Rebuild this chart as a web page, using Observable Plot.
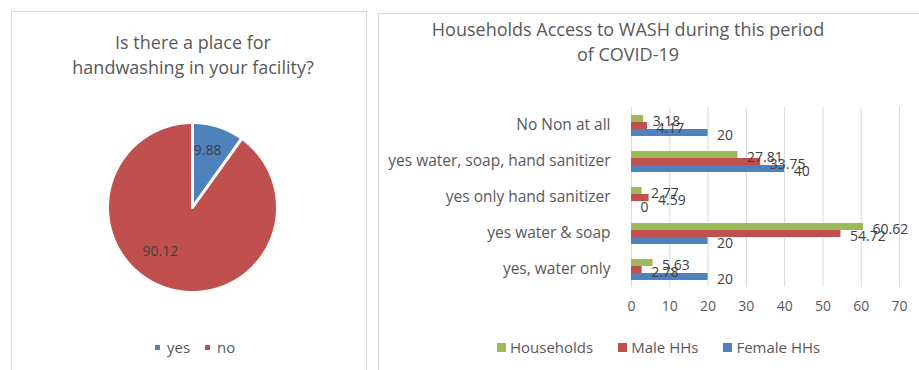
<!DOCTYPE html>
<html>
<head>
<meta charset="utf-8">
<script src="https://cdn.jsdelivr.net/npm/d3@7"></script>
<script src="https://cdn.jsdelivr.net/npm/@observablehq/plot@0.6"></script>
<style>
  body { margin: 0; background: #fff; font-family: "Open Sans", Lato, sans-serif; color: #595959; }
  #wrap { position: relative; width: 919px; height: 370px; overflow: hidden; background: #fff; }
  .panel { position: absolute; border: 1px solid #d9d9d9; background: #fff; }
  .title { position: absolute; text-align: center; font-size: 18px; line-height: 25px; color: #595959; }
  .legend { position: absolute; display: flex; align-items: center; font-size: 15px; color: #595959; white-space: nowrap; }
  .sw { display: inline-block; }
  .plotbox { position: absolute; }
</style>
</head>
<body>
<div id="wrap">
  <div class="panel" style="left:11px;top:11px;width:354px;height:400px"></div>
  <div class="panel" style="left:378px;top:13px;width:560px;height:400px"></div>
  <div class="title" style="left:23px;width:340px;top:30px">Is there a place for<br>handwashing in your facility?</div>
  <div class="title" style="left:393px;width:470px;top:17px">Households Access to WASH during this period<br>of COVID-19</div>
  <div id="pie" class="plotbox" style="left:22px;top:107px"></div>
  <div id="bars" class="plotbox" style="left:379px;top:100px"></div>
  <div id="pieLegend" class="legend" style="left:155px;top:337px"></div>
  <div id="barLegend" class="legend" style="left:497px;top:337px"></div>
</div>
<script>
// ---- Data: pie ----
const pieLabels = ["yes", "no"];
const pieValues = [9.88, 90.12];
const pieColors = ["#4F81BD", "#C0504D"];

// ---- Data: bars ----
const categories = ["No Non at all", "yes water, soap, hand sanitizer", "yes only hand sanitizer", "yes water & soap", "yes, water only"];
const series = ["Households", "Male HHs", "Female HHs"];
const households = [3.18, 27.81, 2.77, 60.62, 5.63];
const maleHHs = [4.17, 33.75, 4.59, 54.72, 2.78];
const femaleHHs = [20, 40, 0, 20, 20];
const xTicks = [0, 10, 20, 30, 40, 50, 60, 70];
const seriesColors = ["#9BBB59", "#C0504D", "#4F81BD"];

// ---- Pie geometry (unit circle, clockwise from 12 o'clock) ----
const arcs = d3.pie().sort(null)(pieValues);
const slicePts = arcs.flatMap((a, i) => {
  const pts = [{x: 0, y: 0, k: pieLabels[i]}];
  const n = Math.max(4, Math.ceil((a.endAngle - a.startAngle) / 0.02));
  for (let j = 0; j <= n; j++) {
    const t = a.startAngle + (a.endAngle - a.startAngle) * j / n;
    pts.push({x: Math.sin(t), y: Math.cos(t), k: pieLabels[i]});
  }
  pts.push({x: 0, y: 0, k: pieLabels[i]});
  return pts;
});
const pieText = arcs.map((a, i) => {
  const m = (a.startAngle + a.endAngle) / 2;
  return {x: 0.7 * Math.sin(m), y: 0.7 * Math.cos(m), k: pieLabels[i], v: String(pieValues[i])};
});

const pie = Plot.plot({
  width: 340, height: 200, margin: 0,
  style: {background: "transparent", fontFamily: "'Open Sans', sans-serif", fontSize: "14px", color: "#404040"},
  x: {domain: [-2, 2], axis: null},
  y: {domain: [-100 / 85, 100 / 85], axis: null},
  color: {domain: pieLabels, range: pieColors},
  marks: [
    Plot.line(slicePts, {x: "x", y: "y", z: "k", fill: "k", stroke: "white", strokeWidth: 3, strokeLinejoin: "round"}),
    Plot.text(pieText.filter(d => d.k === "yes"), {x: "x", y: "y", text: "v", fill: "#404040", fontSize: 14, dx: -3}),
    Plot.text(pieText.filter(d => d.k === "no"), {x: "x", y: "y", text: "v", fill: "#404040", fontSize: 14, dx: -14, dy: -13})
  ]
});
document.getElementById("pie").appendChild(pie);

// ---- Bars ----
const cols = [households, maleHHs, femaleHHs];
const rows = categories.flatMap((c, i) => series.map((s, j) => ({cat: c, series: s, value: cols[j][i]})));

const bars = Plot.plot({
  width: 540, height: 220,
  marginLeft: 252, marginRight: 20, marginTop: 7, marginBottom: 33,
  style: {background: "transparent", fontFamily: "'Open Sans', sans-serif", fontSize: "14px", color: "#595959"},
  x: {domain: [0, 70], ticks: xTicks, tickSize: 0, tickPadding: 14, label: null},
  fy: {domain: categories, padding: 0, label: null, axis: "left", tickSize: 0, tickPadding: 21},
  y: {domain: series, paddingInner: 0, paddingOuter: 0.95, axis: null},
  color: {domain: series, range: seriesColors},
  marks: [
    Plot.ruleX(xTicks, {stroke: "#d9d9d9", strokeWidth: 1}),
    Plot.barX(rows, {fy: "cat", y: "series", x: "value", fill: "series"}),
    Plot.text(rows, {fy: "cat", y: "series", x: "value", text: d => String(d.value), dx: 9, dy: 3, textAnchor: "start", fill: "#404040", fontSize: 14})
  ]
});
document.getElementById("bars").appendChild(bars);
// category labels slightly larger, as in the reference
bars.querySelectorAll("g[aria-label='fy-axis tick label'] text, g[aria-label='fy-axis'] text").forEach(t => t.setAttribute("font-size", "15.5"));

// ---- Legends ----
function legend(el, labels, colors, size, gapText, gapItem) {
  labels.forEach((l, i) => {
    const item = document.createElement("span");
    item.style.display = "inline-flex";
    item.style.alignItems = "center";
    item.style.marginRight = gapItem + "px";
    const sw = document.createElement("span");
    sw.className = "sw";
    sw.style.width = size + "px";
    sw.style.height = size + "px";
    sw.style.marginRight = gapText + "px";
    sw.style.background = colors[i];
    item.appendChild(sw);
    item.appendChild(document.createTextNode(l));
    el.appendChild(item);
  });
}
legend(document.getElementById("pieLegend"), pieLabels, pieColors, 5, 7, 15);
legend(document.getElementById("barLegend"), series, seriesColors, 9, 4, 25);
</script>
</body>
</html>
